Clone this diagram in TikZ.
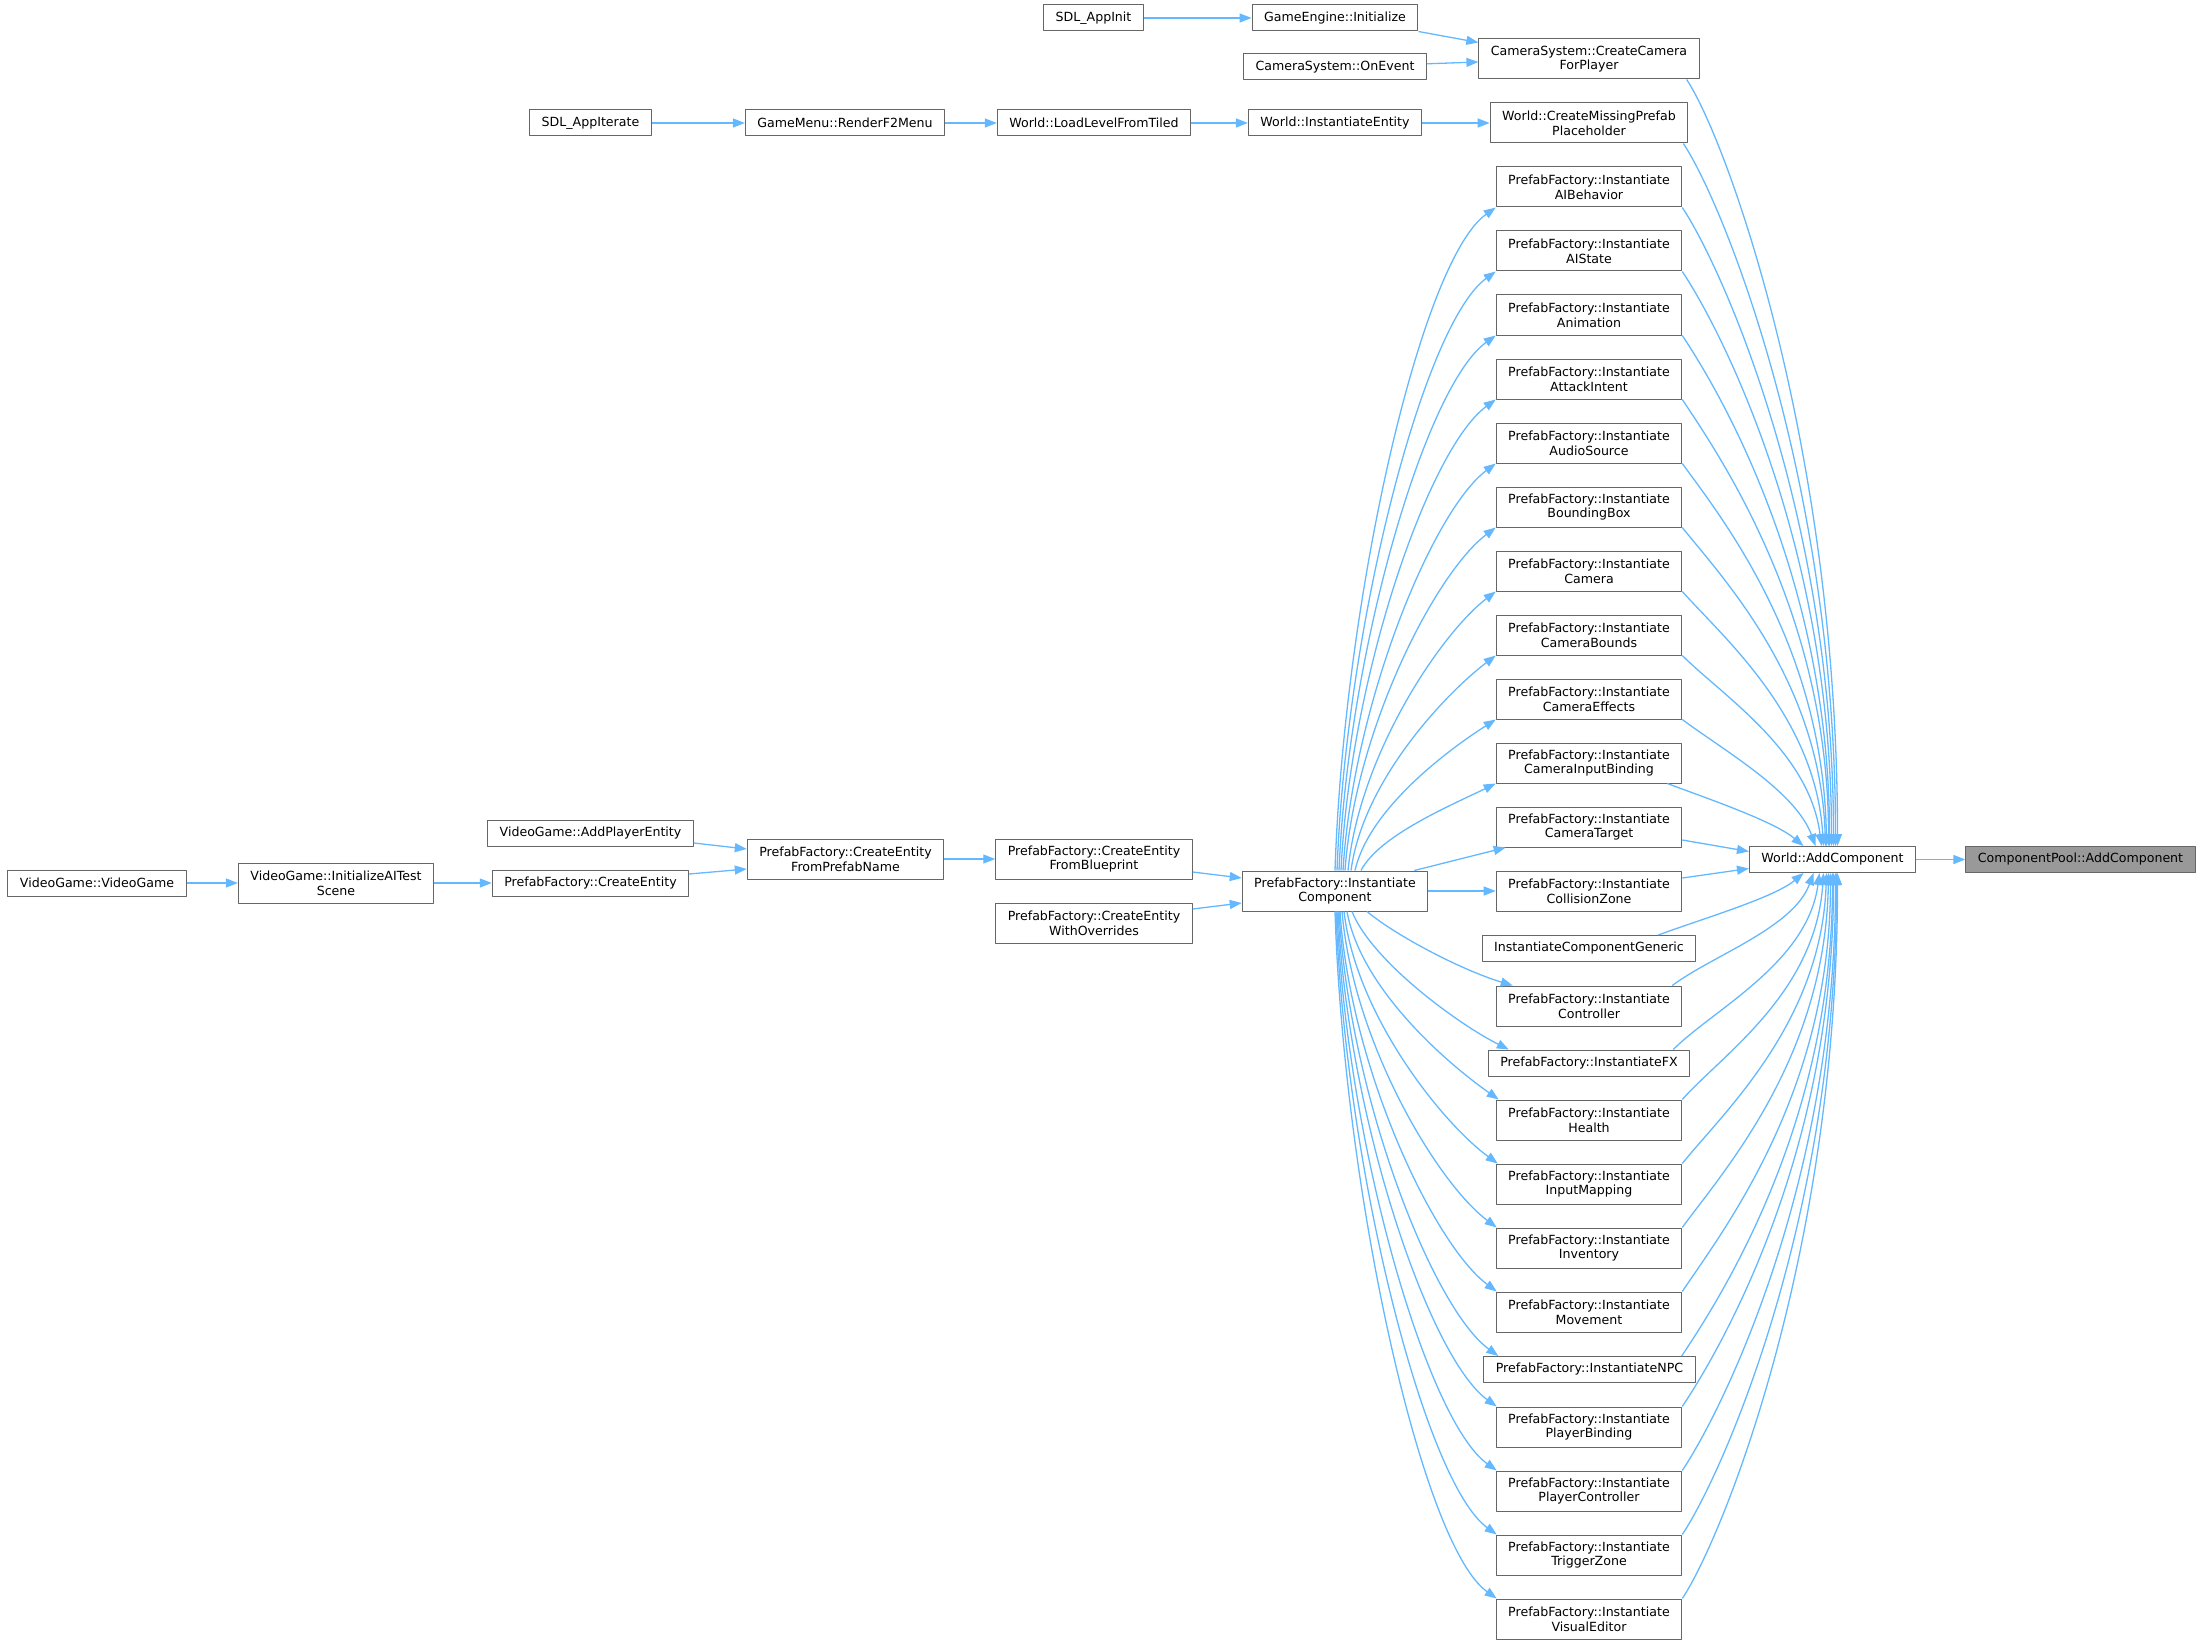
\documentclass[tikz,border=0pt]{standalone}
\usepackage{fontspec}
\setmainfont{DejaVu Sans}
\usetikzlibrary{arrows.meta}
\definecolor{edgeblue}{HTML}{63B8FF}
\definecolor{boxgray}{HTML}{666666}
\definecolor{focusgray}{HTML}{999999}
\begin{document}
\begin{tikzpicture}[x=1pt,y=-1pt,>={Triangle[length=12pt,width=9pt]},
    font=\fontsize{12.6}{14.7}\selectfont, line join=round,
    fn/.style={draw=boxgray,line width=1pt,fill=white,inner xsep=12pt,inner ysep=2pt,minimum height=26pt,align=center},
    fn2/.style={fn,minimum height=40pt},
    focus/.style={fn,fill=focusgray},
    call/.style={->,draw=edgeblue,line width=1.3pt}]
  \useasboundingbox (0,0) rectangle (2203,1645);
  % callers, left part
  \node[fn] (vgvg) at (97,883) {VideoGame::VideoGame};
  \node[fn2] (vginit) at (336,883) {VideoGame::InitializeAITest\\Scene};
  \node[fn] (vgadd) at (590.5,833.5) {VideoGame::AddPlayerEntity};
  \node[fn] (pfce) at (590.5,883) {PrefabFactory::CreateEntity};
  \node[fn] (sdlit) at (590.5,123) {SDL\_AppIterate};
  \node[fn2] (pfname) at (845.5,859) {PrefabFactory::CreateEntity\\FromPrefabName};
  \node[fn] (gmf2) at (845,123) {GameMenu::RenderF2Menu};
  \node[fn2] (pfblue) at (1094,859) {PrefabFactory::CreateEntity\\FromBlueprint};
  \node[fn2] (pfover) at (1094,923) {PrefabFactory::CreateEntity\\WithOverrides};
  \node[fn] (wload) at (1094,123) {World::LoadLevelFromTiled};
  \node[fn] (sdlinit) at (1093.5,18) {SDL\_AppInit};
  \node[fn] (geinit) at (1335,18) {GameEngine::Initialize};
  \node[fn] (csev) at (1335,67) {CameraSystem::OnEvent};
  \node[fn] (winst) at (1335,123) {World::InstantiateEntity};
  \node[fn2] (ic) at (1335,891) {PrefabFactory::Instantiate\\Component};
  % direct callers of World::AddComponent
  \node[fn2] (ccam) at (1589,59) {CameraSystem::CreateCamera\\ForPlayer};
  \node[fn2] (cmiss) at (1589,123) {World::CreateMissingPrefab\\Placeholder};
  \foreach \n/\lbl/\y in {iaibeh/AIBehavior/187, iaist/AIState/251, ianim/Animation/315,
      iatk/AttackIntent/379, iaud/AudioSource/443, ibbox/BoundingBox/507, icam/Camera/571,
      icbnd/CameraBounds/635, icfx/CameraEffects/699, icib/CameraInputBinding/763,
      ictgt/CameraTarget/827, icz/CollisionZone/891, ictrl/Controller/1006, ihealth/Health/1120,
      iinmap/InputMapping/1184, iinv/Inventory/1248, imove/Movement/1312, ipbind/PlayerBinding/1427,
      ipctrl/PlayerController/1491, itrig/TriggerZone/1555, ivis/VisualEditor/1619}
    \node[fn2] (\n) at (1589,\y) {PrefabFactory::Instantiate\\\lbl};
  \node[fn] (igen) at (1589,948.5) {InstantiateComponentGeneric};
  \node[fn] (ifx) at (1589,1063) {PrefabFactory::InstantiateFX};
  \node[fn] (inpc) at (1589.5,1369.5) {PrefabFactory::InstantiateNPC};
  \node[fn] (wadd) at (1832.5,859.5) {World::AddComponent};
  \node[focus] (cpadd) at (2080.5,859.5) {ComponentPool::AddComponent};
  % straight calls
  \draw[call] (sdlinit) -- (geinit);
  \draw[call] (geinit.south east) -- ([yshift=-4pt]ccam.north west);
  \draw[call] (csev) -- ([yshift=-3pt]ccam.west);
  \draw[call] (sdlit) -- (gmf2);
  \draw[call] (gmf2) -- (wload);
  \draw[call] (wload) -- (winst);
  \draw[call] (winst) -- (cmiss);
  \draw[call] (vgvg) -- (vginit);
  \draw[call] (vginit) -- (pfce);
  \draw[call] ([yshift=-9.5pt]vgadd.east) -- ([yshift=10pt]pfname.west);
  \draw[call] ([yshift=9pt]pfce.east) -- ([yshift=-10pt]pfname.west);
  \draw[call] (pfname) -- (pfblue);
  \draw[call] ([yshift=-13pt]pfblue.east) -- ([yshift=13pt]ic.west);
  \draw[call] ([yshift=14pt]pfover.east) -- ([yshift=-12pt]ic.west);
  \draw[call] ([xshift=-14pt]ic.north east) -- ([xshift=10pt]ictgt.south west);
  \draw[call] (ic) -- (icz);
  \draw[call] ([yshift=-13pt]ictgt.east) -- ([yshift=8pt]wadd.west);
  \draw[call] ([yshift=13pt]icz.east) -- ([yshift=-9pt]wadd.west);
  \draw[call] (wadd) -- (cpadd);
  % fan into World::AddComponent, from above
  \foreach \n/\p/\a/\d/\c/\s in {ccam/-13/60/0/400/5, cmiss/-5/60/0/365/3, iaibeh/0/60/0/330/1,
      iaist/0/60/0/300/-1, ianim/0/60/0/265/-3, iatk/0/60/0/230/-4, iaud/0/55/-3/200/-6,
      ibbox/0/50/-5/165/-7, icam/0/45/-8/130/-9, icbnd/0/40/-12/95/-11, icfx/0/30/-20/55/-17,
      icib/-15/15/-30/25/-29}
    \draw[call] ([xshift=\p pt]\n.south east) .. controls +(40,\a) and +(\d,-\c) .. ([xshift=\s pt]wadd.north);
  % fan into World::AddComponent, from below
  \foreach \n/\p/\a/\d/\c/\s in {igen/-38/15/-30/25/-29, ictrl/-10/30/-20/55/-19, ifx/-17/40/-12/90/-13,
      ihealth/0/45/-8/120/-9, iinmap/0/50/-5/150/-6, iinv/0/55/-3/185/-4, imove/0/60/0/220/-2,
      inpc/-14/60/0/250/0, ipbind/0/60/0/280/1, ipctrl/0/60/0/310/3, itrig/0/60/0/345/4,
      ivis/0/60/0/380/5}
    \draw[call] ([xshift=\p pt]\n.north east) .. controls +(40,-\a) and +(\d,\c) .. ([xshift=\s pt]wadd.south);
  % fan out of PrefabFactory::InstantiateComponent, upwards
  \foreach \n/\s/\a/\b/\c/\d in {iaibeh/0/9/272/75/53, iaist/2/9/246/72/52, ianim/4/9/220/70/50,
      iatk/6/9/194/67/49, iaud/8/10/167/63/47, ibbox/10/10/141/60/45, icam/13/11/115/55/42,
      icbnd/16/12/90/50/38, icfx/20/14/62/47/30, icib/26/18/35/45/22}
    \draw[call] ([xshift=\s pt]ic.north) .. controls +(\a,-\b) and +(-\c,\d) .. (\n.south west);
  % fan out of PrefabFactory::InstantiateComponent, downwards
  \foreach \n/\s/\a/\b/\c/\d/\e in {ictrl/32/30/25/50/15/17, ifx/17/20/50/50/25/21,
      ihealth/12/14/78/50/35/3, iinmap/9/12/104/55/40/2, iinv/7/11/130/60/45/1,
      imove/5/10/156/63/47/1, inpc/4/10/183/66/48/15, ipbind/3/9/203/68/49/1,
      ipctrl/2/9/230/70/50/1, itrig/1/9/256/72/52/1, ivis/0/9/282/75/53/1}
    \draw[call] ([xshift=\s pt]ic.south) .. controls +(\a,\b) and +(-\c,-\d) .. ([xshift=\e pt]\n.north west);
\end{tikzpicture}
\end{document}
